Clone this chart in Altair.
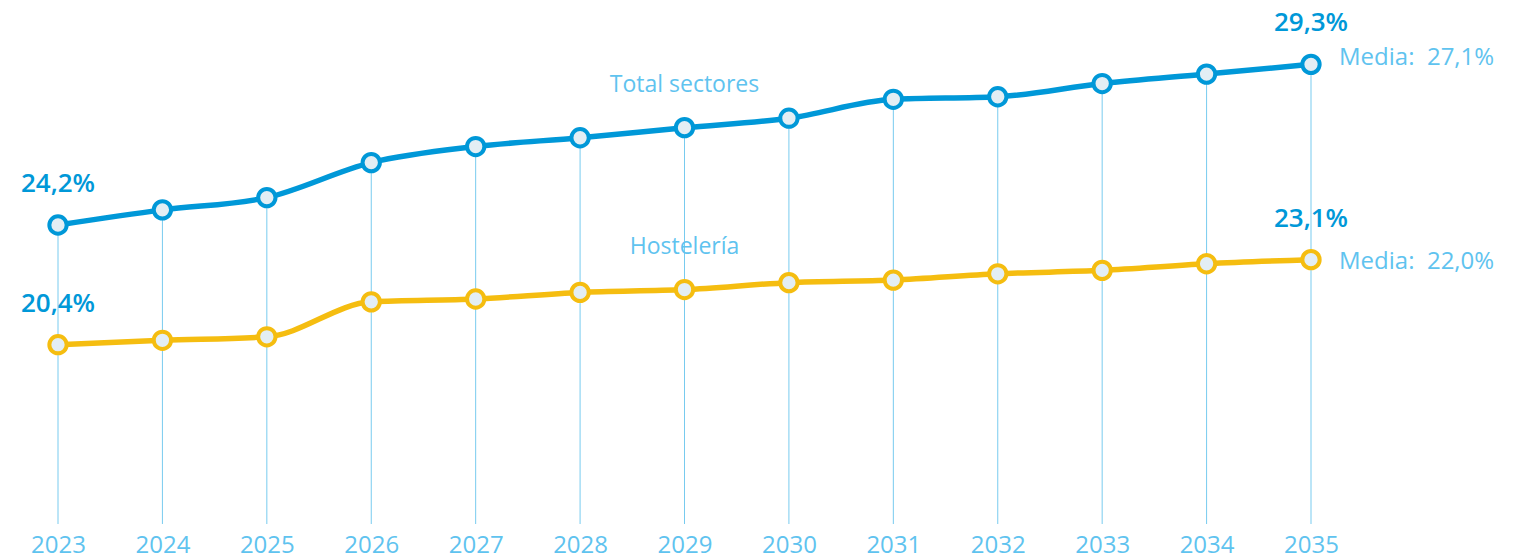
import altair as alt
import pandas as pd

years = [2023, 2024, 2025, 2026, 2027, 2028, 2029, 2030, 2031, 2032, 2033, 2034, 2035]
total = [24.2, 24.68, 25.07, 26.18, 26.69, 26.97, 27.29, 27.59, 28.19, 28.27, 28.69, 28.99, 29.3]
hosteleria = [20.4, 20.54, 20.65, 21.76, 21.85, 22.06, 22.15, 22.37, 22.45, 22.65, 22.76, 22.97, 23.1]
series_names = ["Total sectores", "Hostelería"]
media_labels = ["Media:\u00a0\u00a027,1%", "Media:\u00a0\u00a022,0%"]

BLUE = "#0098d8"
YELLOW = "#f5bd10"
LIGHT = "#5fc3ef"
RULE = "#78cbef"
FILL = "#e3eef4"
FONT = "Open Sans"

W, H = 1253, 510
ydom = [14.708, 30.898]

rows = []
for i, y in enumerate(years):
    rows.append({"year": y, "value": total[i], "series": series_names[0]})
    rows.append({"year": y, "value": hosteleria[i], "series": series_names[1]})
df = pd.DataFrame(rows)
df_total = pd.DataFrame({"year": years, "value": total})

def fmt(v):
    return f"{v:.1f}".replace(".", ",") + "%"

ends = pd.DataFrame({
    "year": [years[0], years[-1], years[0], years[-1]],
    "value": [total[0], total[-1], hosteleria[0], hosteleria[-1]],
})
ends["label"] = ends["value"].map(fmt)

names_df = pd.DataFrame({"year": [2029, 2029], "value": [total[6], hosteleria[6]], "label": series_names})
media_total = pd.DataFrame({"year": [years[-1]], "value": [total[-1]], "label": [media_labels[0]]})
media_host = pd.DataFrame({"year": [years[-1]], "value": [hosteleria[-1]], "label": [media_labels[1]]})

x = alt.X("year:Q", scale=alt.Scale(domain=[years[0], years[-1]], nice=False, zero=False),
          axis=alt.Axis(values=years, format="d", title=None, domain=False, ticks=False, grid=False,
                        labelColor=LIGHT, labelFont=FONT, labelFontSize=24, labelPadding=9,
                        labelFlush=False))
y = alt.Y("value:Q", scale=alt.Scale(domain=ydom, nice=False, zero=False), axis=None)
color = alt.Color("series:N", scale=alt.Scale(domain=series_names, range=[BLUE, YELLOW]), legend=None)

rules = alt.Chart(df_total).mark_rule(color=RULE, strokeWidth=1).encode(
    x=x, y=y, y2=alt.value(H))

lines = alt.Chart(df).mark_line(strokeWidth=5.5, interpolate="monotone").encode(
    x=x, y=y, color=color, detail="series:N")

points = alt.Chart(df).mark_point(shape="circle", filled=True, size=300, strokeWidth=4,
                                  fill=FILL, opacity=1).encode(
    x=x, y=y, stroke=alt.Stroke("series:N", scale=alt.Scale(domain=series_names, range=[BLUE, YELLOW]), legend=None))

end_text = alt.Chart(ends).mark_text(font=FONT, fontSize=26, fontWeight=600, color=BLUE,
                                     baseline="middle", align="center", dy=-41).encode(
    x=x, y=y, text="label:N")

name_text = alt.Chart(names_df).mark_text(font=FONT, fontSize=23, color=LIGHT,
                                          baseline="middle", align="center", dy=-43).encode(
    x=x, y=y, text="label:N")

media1 = alt.Chart(media_total).mark_text(font=FONT, fontSize=24, color=LIGHT,
                                          baseline="middle", align="left", dx=28, dy=-6).encode(
    x=x, y=y, text="label:N")
media2 = alt.Chart(media_host).mark_text(font=FONT, fontSize=24, color=LIGHT,
                                         baseline="middle", align="left", dx=28, dy=2).encode(
    x=x, y=y, text="label:N")

chart = alt.layer(rules, lines, points, end_text, name_text, media1, media2).properties(
    width=W, height=H,
    background="white",
    autosize=alt.AutoSizeParams(type="none"),
    padding={"left": 50, "top": 6, "right": 203, "bottom": 36},
).configure_view(strokeWidth=0, stroke="transparent")

chart.save("out.html", embed_options={"renderer": "svg", "actions": False})
